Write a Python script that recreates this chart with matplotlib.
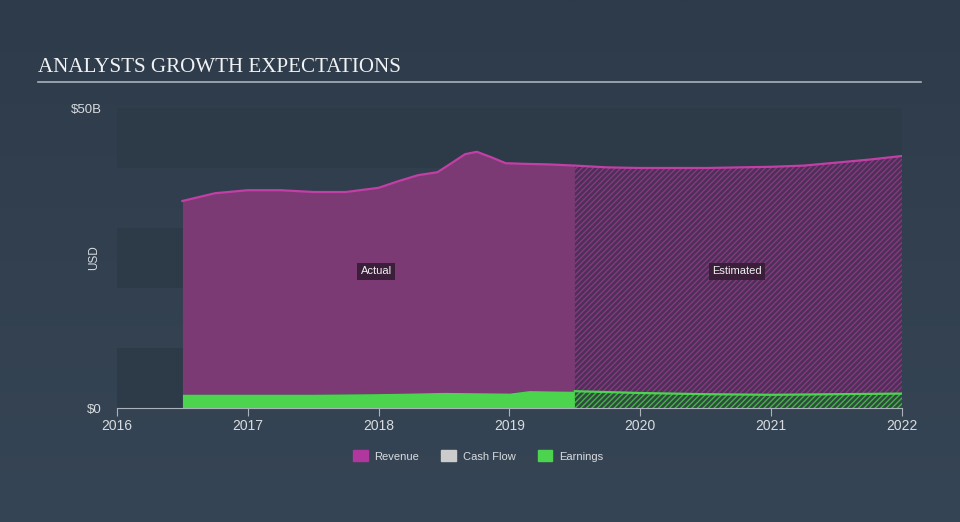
import numpy as np
import matplotlib.pyplot as plt
from matplotlib.patches import Patch
from matplotlib.colors import LinearSegmentedColormap

# revenue, $B
rev_x = [2016.5, 2016.75, 2017.0, 2017.25, 2017.5, 2017.75, 2018.0, 2018.15, 2018.3,
         2018.45, 2018.57, 2018.66, 2018.75, 2018.86, 2018.97, 2019.1, 2019.3, 2019.5,
         2019.75, 2020.0, 2020.5, 2021.0, 2021.25, 2021.5, 2021.75, 2022.0]
rev_y = [34.5, 35.8, 36.3, 36.3, 36.0, 36.0, 36.7, 37.8, 38.8,
         39.3, 41.0, 42.3, 42.7, 41.8, 40.8, 40.7, 40.6, 40.4,
         40.1, 40.0, 40.0, 40.2, 40.4, 40.9, 41.4, 42.0]
# earnings, $B
earn_x = [2016.5, 2017.0, 2017.5, 2018.0, 2018.5, 2019.0, 2019.15, 2019.5,
          2020.0, 2020.5, 2021.0, 2021.5, 2022.0]
earn_y = [2.3, 2.3, 2.3, 2.4, 2.6, 2.5, 2.9, 2.8, 2.5, 2.3, 2.2, 2.3, 2.4]

split = 2019.5
years = [2016, 2017, 2018, 2019, 2020, 2021, 2022]
yticks = [0, 50]
ytick_labels = ['$0', '$50B']

W, H = 960, 522
bg = '#323f4e'
band = '#2d3a48'
rev_fill = '#7b3a74'
rev_line = '#c23fa6'
earn_col = '#4cd44f'
txt = '#d8dce0'

plt.rcParams['font.family'] = ['Liberation Sans', 'DejaVu Sans']
plt.rcParams['hatch.linewidth'] = 1.0

fig = plt.figure(figsize=(W / 100, H / 100), dpi=100)
fig.patch.set_facecolor(bg)

# background gradient
bgax = fig.add_axes([0, 0, 1, 1], zorder=-10)
grad = np.linspace(0, 1, 256).reshape(-1, 1)
cm = LinearSegmentedColormap.from_list('bg', ['#2e3b4a', '#364555'])
bgax.imshow(grad, aspect='auto', cmap=cm, extent=[0, 1, 1, 0])
bgax.axis('off')

# title
fig.text(38 / W, 1 - 67 / H, 'ANALYSTS GROWTH EXPECTATIONS', family='Liberation Serif',
         fontsize=15.1, color='#f0f2f4', va='center', ha='left')
fig.add_artist(plt.Line2D([38 / W, 921 / W], [1 - 82 / H, 1 - 82 / H], color='#aab2bb', lw=1.2))

x0, x1, y0, y1 = 117, 902, 108, 408
ax = fig.add_axes([x0 / W, 1 - y1 / H, (x1 - x0) / W, (y1 - y0) / H])
ax.set_facecolor('none')
ax.set_xlim(2016, 2022)
ax.set_ylim(0, 50)

# alternating bands
for b in [0, 20, 40]:
    ax.axhspan(b, b + 10, color=band, lw=0, zorder=0)

rx = np.array(rev_x)
ry = np.array(rev_y)
ex = np.array(earn_x)
ey = np.array(earn_y)
ey_on_rev = np.interp(rx, ex, ey)

act = rx <= split
est = rx >= split
ax.fill_between(rx[act], ey_on_rev[act], ry[act], color=rev_fill, lw=0, zorder=2)
ax.fill_between(rx[est], ey_on_rev[est], ry[est], facecolor='#4d3058', edgecolor='#86397f',
                hatch='//////', lw=0, zorder=2)
ax.plot(rx, ry, color=rev_line, lw=1.6, zorder=4)

eact = ex <= split
eest = ex >= split
ax.fill_between(ex[eact], 0, ey[eact], color=earn_col, lw=0, zorder=3)
ax.fill_between(ex[eest], 0, ey[eest], facecolor='#2f4a3e', edgecolor='#45b348',
                hatch='//////', lw=0, zorder=3)
ax.plot(ex[eest], ey[eest], color=earn_col, lw=1.6, zorder=4)

# labels
box = dict(boxstyle='square,pad=0.3', fc='#3b1f3a', ec='none')
ax.text(2017.98, 22.8, 'Actual', color='#f0f0f0', fontsize=8, ha='center', va='center', bbox=box, zorder=5)
ax.text(2020.74, 22.8, 'Estimated', color='#f0f0f0', fontsize=8, ha='center', va='center', bbox=box, zorder=5)

for s in ['top', 'right', 'left']:
    ax.spines[s].set_visible(False)
ax.spines['bottom'].set_color('#aab2bb')
ax.spines['bottom'].set_zorder(6)
ax.set_xticks(years)
ax.set_xticklabels([str(y) for y in years])
ax.tick_params(axis='x', colors='#aab2bb', labelcolor=txt, labelsize=10, length=6, pad=2)
ax.set_yticks(yticks)
ax.set_yticklabels(ytick_labels)
ax.tick_params(axis='y', length=0, labelcolor=txt, labelsize=9.5, pad=11)
ax.set_ylabel('USD', color=txt, fontsize=8.5)
ax.yaxis.set_label_coords(-0.022, 0.5)

handles = [Patch(color='#b0379e', label='Revenue'),
           Patch(color='#cccccc', label='Cash Flow'),
           Patch(color=earn_col, label='Earnings')]
leg = fig.legend(handles=handles, loc='center', bbox_to_anchor=(478 / W, 1 - 456 / H), ncol=3,
                 frameon=False, fontsize=8, handlelength=1.3, handleheight=1.1,
                 columnspacing=2.0, handletextpad=0.6)
for t in leg.get_texts():
    t.set_color(txt)

fig.savefig('out.png', dpi=100, facecolor=fig.get_facecolor())
